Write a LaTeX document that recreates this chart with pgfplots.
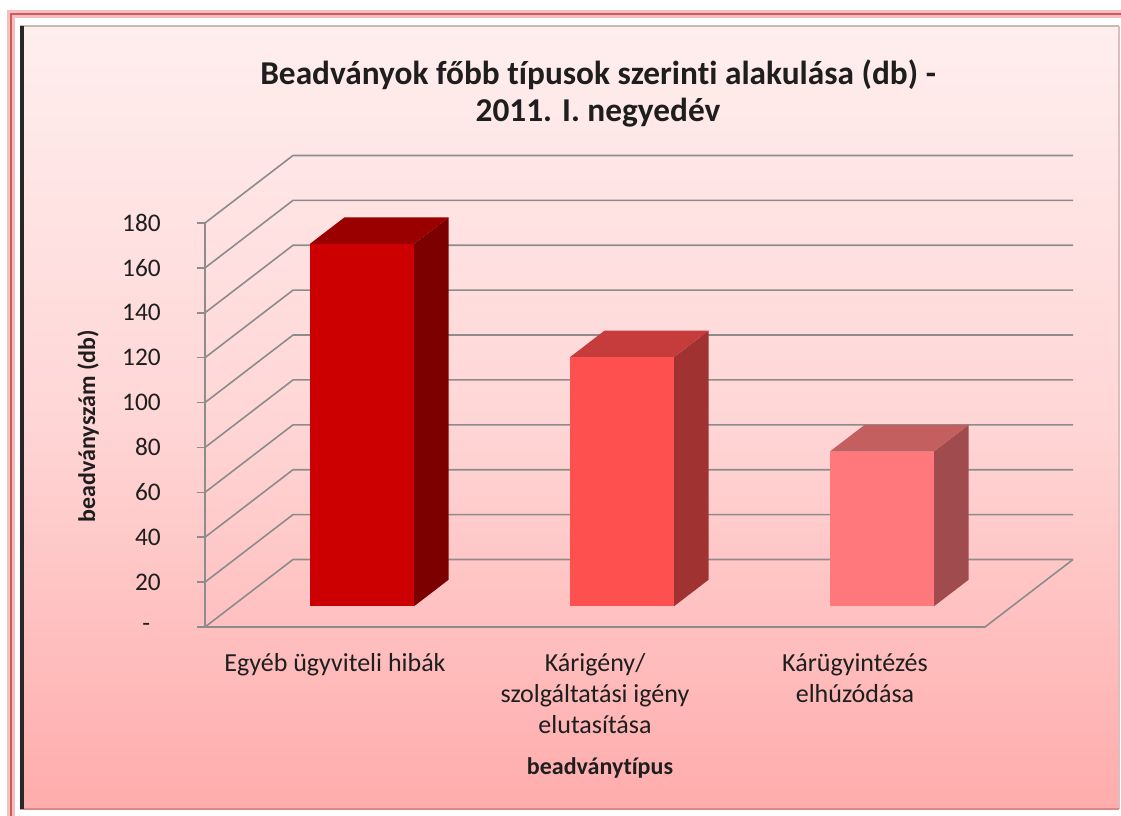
\documentclass[border=0pt]{standalone}
\usepackage{pgfplots}
\pgfplotsset{compat=1.18}
\usepackage{fontspec}
\setmainfont{Carlito}[Ligatures=NoCommon, RawFeature={-calt}]
\usetikzlibrary{backgrounds}

\definecolor{gridc}{RGB}{140,140,140}
\definecolor{txt}{RGB}{30,30,30}
\definecolor{bAf}{RGB}{204,0,0}
\definecolor{bAt}{RGB}{154,0,0}
\definecolor{bAs}{RGB}{124,0,0}
\definecolor{bBf}{RGB}{255,80,80}
\definecolor{bBt}{RGB}{198,60,60}
\definecolor{bBs}{RGB}{160,50,50}
\definecolor{bCf}{RGB}{255,120,124}
\definecolor{bCt}{RGB}{196,95,95}
\definecolor{bCs}{RGB}{160,75,77}
\definecolor{bgtop}{RGB}{255,238,238}
\definecolor{bgmid}{RGB}{255,214,214}
\definecolor{bgbot}{RGB}{255,172,172}
\definecolor{frame}{RGB}{208,90,90}

% #1 left x, #2 right x, #3 value, #4 front, #5 top, #6 side
\newcommand{\threedbar}[6]{%
  \addplot3[fill=#6, draw=none] coordinates {(#2,0.305,0) (#2,0.70,0) (#2,0.70,#3) (#2,0.305,#3)} -- cycle;
  \addplot3[fill=#5, draw=none] coordinates {(#1,0.305,#3) (#2,0.305,#3) (#2,0.70,#3) (#1,0.70,#3)} -- cycle;
  \addplot3[fill=#4, draw=none] coordinates {(#1,0.305,0) (#2,0.305,0) (#2,0.305,#3) (#1,0.305,#3)} -- cycle;
}

\begin{document}
\begin{tikzpicture}[
  gridline/.style={draw=gridc, line width=1.2pt, line join=round, mark=none},
  ticklab/.style={anchor=east, xshift=-33pt, font=\fontsize{19}{22}\selectfont, text=txt, inner sep=0pt},
]
\begin{axis}[
  x={(195pt,0pt)}, y={(66pt,50.625pt)}, z={(0pt,1.68333pt)},
  xmin=-0.5, xmax=2.5, ymin=0, ymax=1, zmin=0, zmax=180,
  hide axis, clip=false,
]
\coordinate (O) at (axis cs:-0.5,0,0);
% walls: grid lines on left wall and back wall
\pgfplotsinvokeforeach{0,20,40,60,80,100,120,140,160,180}{
  \addplot3[gridline] coordinates {(-0.5,0,#1) (-0.5,1,#1) (2.5,1,#1)};
  \addplot3[gridline] coordinates {(-0.5308,0,#1) (-0.5,0,#1)};
}
% floor outline and front-left edge
\addplot3[gridline] coordinates {(-0.5,0,180) (-0.5,0,0) (2.5,0,0) (2.5,1,0)};
% bars
\threedbar{-0.2}{0.2}{161.5}{bAf}{bAt}{bAs}
\threedbar{0.8}{1.2}{111}{bBf}{bBt}{bBs}
\threedbar{1.8}{2.2}{69}{bCf}{bCt}{bCs}
% tick labels
\pgfplotsinvokeforeach{20,40,60,80,100,120,140,160,180}{
  \node[ticklab] at (axis cs:-0.5,0,#1) {#1};
}
\node[ticklab, xshift=-8pt] at (axis cs:-0.5,0,0) {-};
\end{axis}

\begin{scope}[on background layer, shift={(O)}, shift={(-153.75pt,470.25pt)}, x=0.75pt, y=-0.75pt]
  \useasboundingbox (0,0) rectangle (1121,816);
  \fill[white] (0,0) rectangle (1121,816);
  \draw[draw={rgb,255:red,246;green,190;blue,190}, line width=6] (11,14) rectangle (1140,830);
  \draw[draw=frame, line width=2.2] (11,14) rectangle (1140,830);
  \shade[top color=bgtop, bottom color=bgbot, middle color=bgmid] (20,26) rectangle (1119,809);
  \draw[draw={rgb,255:red,200;green,185;blue,185}, line width=2] (20,26) -- (1119,26);
  \draw[draw={rgb,255:red,220;green,190;blue,190}, line width=1.2] (1119,26) -- (1119,809);
  \draw[draw={rgb,255:red,215;green,140;blue,140}, line width=2] (20,809) -- (1119,809);
  \draw[draw={rgb,255:red,40;green,40;blue,40}, line width=3] (22,26) -- (22,809);
\end{scope}

\begin{scope}[shift={(O)}, shift={(-153.75pt,470.25pt)}, x=0.75pt, y=-0.75pt]
  \begin{scope}[every node/.style={text=txt, inner sep=0pt}]
    \node[anchor=base, font=\fontsize{25}{30}\selectfont\bfseries] at (598,85) {Beadványok főbb típusok szerinti alakulása (db) -};
    \node[anchor=base, font=\fontsize{25}{30}\selectfont\bfseries] at (598,122) {2011. I. negyedév};
    \node[anchor=base, font=\fontsize{19.5}{23}\selectfont] at (335,672) {Egyéb ügyviteli hibák};
    \node[anchor=base, font=\fontsize{19.5}{23}\selectfont] at (595,672) {Kárigény/};
    \node[anchor=base, font=\fontsize{19.5}{23}\selectfont] at (595,703) {szolgáltatási igény};
    \node[anchor=base, font=\fontsize{19.5}{23}\selectfont] at (595,734) {elutasítása};
    \node[anchor=base, font=\fontsize{19.5}{23}\selectfont] at (855,672) {Kárügyintézés};
    \node[anchor=base, font=\fontsize{19.5}{23}\selectfont] at (855,703) {elhúzódása};
    \node[anchor=base, font=\fontsize{18}{22}\selectfont\bfseries] at (600,775) {beadványtípus};
    \node[rotate=90, font=\fontsize{18}{22}\selectfont\bfseries] at (88,426) {beadványszám (db)};
  \end{scope}
\end{scope}
\end{tikzpicture}
\end{document}
